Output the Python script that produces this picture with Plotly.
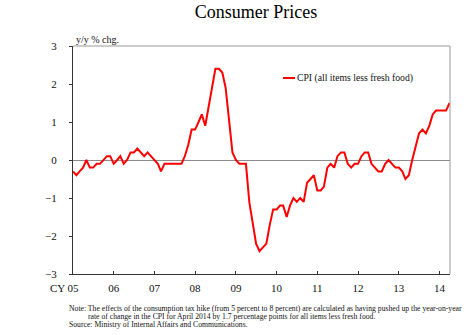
import plotly.graph_objects as go
import pandas as pd

# Monthly CPI (all items less fresh food), y/y % change, Jan 2005 - Apr 2014
months = pd.date_range("2005-01-01", "2014-04-01", freq="MS")
cpi = [
    # 2005
    -0.3, -0.4, -0.3, -0.2, 0.0, -0.2, -0.2, -0.1, -0.1, 0.0, 0.1, 0.1,
    # 2006
    -0.1, 0.0, 0.1, -0.1, 0.0, 0.2, 0.2, 0.3, 0.2, 0.1, 0.2, 0.1,
    # 2007
    0.0, -0.1, -0.3, -0.1, -0.1, -0.1, -0.1, -0.1, -0.1, 0.1, 0.4, 0.8,
    # 2008
    0.8, 1.0, 1.2, 0.9, 1.4, 1.9, 2.4, 2.4, 2.3, 1.9, 1.0, 0.2,
    # 2009
    0.0, -0.1, -0.1, -0.1, -1.1, -1.7, -2.2, -2.4, -2.3, -2.2, -1.7, -1.3,
    # 2010
    -1.3, -1.2, -1.2, -1.5, -1.2, -1.0, -1.1, -1.0, -1.1, -0.6, -0.5, -0.4,
    # 2011
    -0.8, -0.8, -0.7, -0.2, -0.1, -0.2, 0.1, 0.2, 0.2, -0.1, -0.2, -0.1,
    # 2012
    -0.1, 0.1, 0.2, 0.2, -0.1, -0.2, -0.3, -0.3, -0.1, 0.0, -0.1, -0.2,
    # 2013
    -0.2, -0.3, -0.5, -0.4, 0.0, 0.4, 0.7, 0.8, 0.7, 0.9, 1.2, 1.3,
    # 2014
    1.3, 1.3, 1.3, 1.5,
]
tick_years = [f"{y}-01-01" for y in range(2005, 2015)]
tick_labels = ["05", "06", "07", "08", "09", "10", "11", "12", "13", "14"]
y_ticks = [-3, -2, -1, 0, 1, 2, 3]
series_name = "CPI (all items less fresh food)"

SERIF = "Liberation Serif, Times New Roman, serif"
RED = "#ff0000"

# plot area in pixels
L, R, T, B = 73, 450, 46, 274
W, H = 474, 335
pw, ph = R - L, B - T
def px(x):
    return (x - L) / pw
def py(y):
    return (B - y) / ph

fig = go.Figure()
fig.add_trace(go.Scatter(
    x=months, y=cpi, mode="lines", name=series_name,
    line=dict(color=RED, width=2), showlegend=False,
))

fig.update_layout(
    width=W, height=H,
    margin=dict(l=L, r=W - R, t=T, b=H - B, pad=0),
    paper_bgcolor="white", plot_bgcolor="white",
    font=dict(family=SERIF, size=11, color="#111"),
    title=dict(text="Consumer Prices", x=256 / W, xanchor="center",
               y=1 - 12 / H, yanchor="middle",
               font=dict(family=SERIF, size=18, color="#000")),
    xaxis=dict(
        range=["2005-01-01", "2014-04-05"],
        tickvals=tick_years, ticktext=tick_labels,
        ticks="inside", ticklen=3, tickcolor="#333",
        showline=True, linecolor="#333", linewidth=1,
        showgrid=False, zeroline=False,
        ticklabelstandoff=4,
        tickfont=dict(family=SERIF, size=11, color="#111"),
    ),
    yaxis=dict(
        range=[-3, 3], tickvals=y_ticks,
        ticks="outside", ticklen=3, tickcolor="#333",
        showline=True, linecolor="#333", linewidth=1,
        showgrid=False, zeroline=True, zerolinecolor="#8c8c8c", zerolinewidth=1,
        ticklabelstandoff=10,
        tickfont=dict(family=SERIF, size=11, color="#111"),
    ),
)

# gray frame (top and right)
fig.add_shape(type="line", xref="paper", yref="paper", x0=0, x1=1, y0=1, y1=1,
              line=dict(color="#999", width=1))
fig.add_shape(type="line", xref="paper", yref="paper", x0=1, x1=1, y0=0, y1=1,
              line=dict(color="#999", width=1))

# legend
fig.add_shape(type="line", xref="paper", yref="paper",
              x0=px(283), x1=px(295), y0=py(78), y1=py(78),
              line=dict(color=RED, width=2))
fig.add_annotation(text=series_name, xref="paper", yref="paper",
                   x=px(295), y=py(78), xanchor="left", yanchor="middle",
                   showarrow=False, font=dict(family=SERIF, size=9.7, color="#111"))

# axis unit label
fig.add_annotation(text="y/y % chg.", xref="paper", yref="paper",
                   x=px(74), y=py(39), xanchor="left", yanchor="middle",
                   showarrow=False, font=dict(family=SERIF, size=10, color="#111"))

# CY prefix
fig.add_annotation(text="CY", xref="paper", yref="paper",
                   x=px(67), y=py(288), xanchor="right", yanchor="middle",
                   showarrow=False, font=dict(family=SERIF, size=11, color="#111"))

# notes
notes = [
    (67, 308, "Note: The effects of the consumption tax hike (from 5 percent to 8 percent) are calculated as having pushed up the year-on-year"),
    (86, 316, "rate of change in the CPI for April 2014 by 1.7 percentage points for all items less fresh food."),
    (67, 324, "Source: Ministry of Internal Affairs and Communications."),
]
for xx, yy, t in notes:
    fig.add_annotation(text=t, xref="paper", yref="paper", x=px(xx), y=py(yy),
                       xanchor="left", yanchor="middle", showarrow=False,
                       font=dict(family=SERIF, size=7.7, color="#111"))

fig.write_html("out.html")
